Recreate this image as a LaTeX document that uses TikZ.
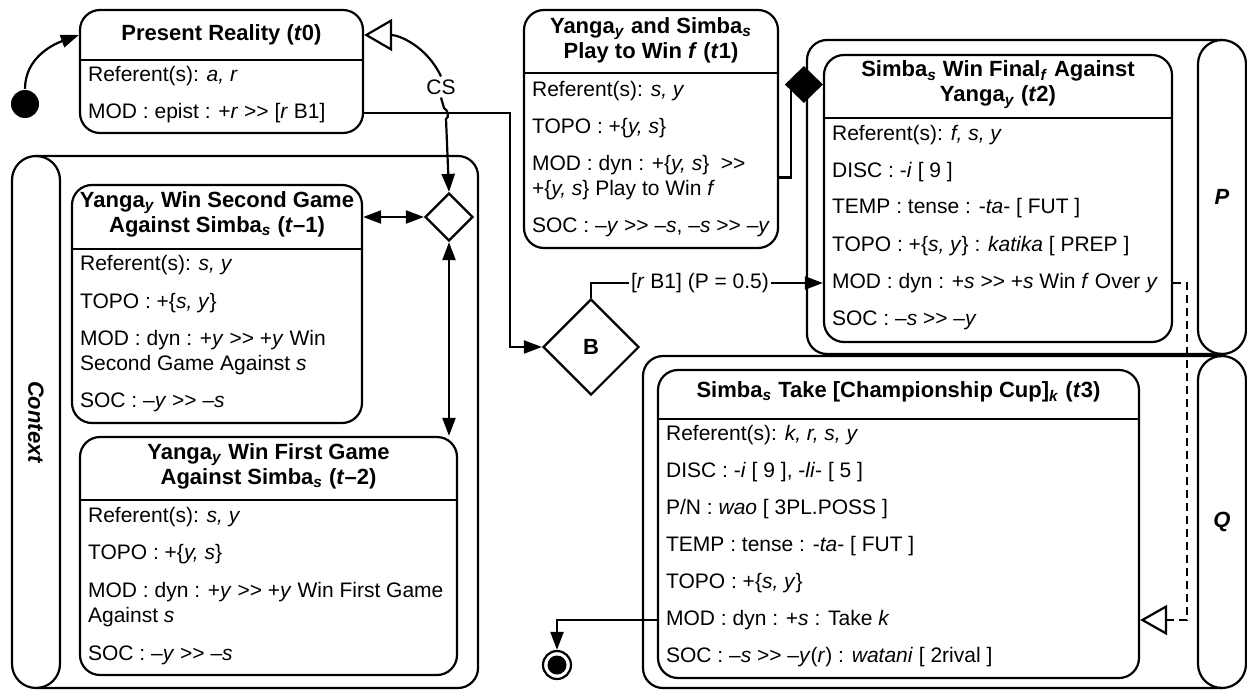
\documentclass[tikz,border=0pt]{standalone}
\usepackage{fontspec}
\setmainfont{Liberation Sans}
\usetikzlibrary{shapes.geometric,arrows.meta}

\tikzset{
  state/.style={draw,rounded corners=10pt,inner sep=0pt},
  lane/.style={draw,rounded corners=12pt,minimum width=24pt,inner sep=0pt},
  head/.style={font=\fontsize{11}{12.5}\selectfont\bfseries,align=center},
  row/.style={anchor=west,align=left,inner sep=0pt},
  arr/.style={-{Triangle[length=9pt,width=6.5pt]}},
  twoarr/.style={{Triangle[length=9pt,width=6.5pt]}-{Triangle[length=9pt,width=6.5pt]}},
}
\newcommand{\gtgt}{>{}>}

\begin{document}
\begin{tikzpicture}[x=0.5pt,y=0.5pt,line width=1.1pt,font=\fontsize{10.5}{12.5}\selectfont]
\useasboundingbox (0,0) rectangle (1247,-690);

% swimlanes
\draw[rounded corners=10pt] (36,-156) -- (478,-156) -- (478,-688) -- (36,-688);
\node[lane,minimum height=266pt] (ctx) at (36,-422) {};
\node[rotate=-90,font=\fontsize{11}{12.5}\selectfont\bfseries\itshape] (ctxl) at (ctx) {Context};
\draw[rounded corners=10pt] (1222,-40) -- (807,-40) -- (807,-354) -- (1222,-354);
\node[lane,minimum height=157pt] (lp) at (1222,-197) {};
\node[font=\fontsize{11}{12.5}\selectfont\bfseries\itshape] (lpl) at (lp) {P};
\draw[rounded corners=10pt] (1222,-356) -- (643,-356) -- (643,-688) -- (1222,-688);
\node[lane,minimum height=166pt] (lq) at (1222,-522) {};
\node[font=\fontsize{11}{12.5}\selectfont\bfseries\itshape] (lql) at (lq) {Q};

% t0
\node[state,minimum width=141.5pt,minimum height=61.5pt] (t0) at (221.5,-71.5) {};
\draw (t0.west |- 0,-60) -- (t0.east |- 0,-60);
\node[head] (t0h) at (221.5,-35) {Present Reality (\textit{t}0)};
\node[row] (t0r1) at (87,-76) {Referent(s): \textit{a, r}};
\node[row] (t0r2) at (87,-113) {MOD : epist : +\textit{r} \gtgt{} [\textit{r} B1]};

% t1
\node[state,minimum width=127pt,minimum height=119pt] (t1) at (651,-129) {};
\draw (t1.west |- 0,-73) -- (t1.east |- 0,-73);
\node[head] (t1h) at (651,-40.5) {Yanga\textsubscript{\textit{y}} and Simba\textsubscript{\textit{s}}\\Play to Win \textit{f} (\textit{t}1)};
\node[row] (t1r1) at (531,-91) {Referent(s): \textit{s, y}};
\node[row] (t1r2) at (531,-128) {TOPO : +\{\textit{y, s}\}};
\node[row] (t1r3) at (531,-177.5) {MOD : dyn : +\{\textit{y, s}\}~ \gtgt\\+\{\textit{y, s}\} Play to Win \textit{f}};
\node[row] (t1r4) at (531,-227) {SOC : --\textit{y} \gtgt{} --\textit{s}, --\textit{s} \gtgt{} --\textit{y}};

% t2
\node[state,minimum width=174pt,minimum height=143.5pt] (t2) at (998,-198.5) {};
\draw (t2.west |- 0,-118) -- (t2.east |- 0,-118);
\node[head] (t2h) at (998,-84.5) {Simba\textsubscript{\textit{s}} Win Final\textsubscript{\textit{f}} Against\\Yanga\textsubscript{\textit{y}} (\textit{t}2)};
\node[row] (t2r1) at (831,-135) {Referent(s): \textit{f, s, y}};
\node[row] (t2r2) at (831,-172) {DISC : -\textit{i} [ 9 ]};
\node[row] (t2r3) at (831,-208) {TEMP : tense : -\textit{ta}- [ FUT ]};
\node[row] (t2r4) at (831,-246) {TOPO : +\{\textit{s, y}\} : \textit{katika} [ PREP ]};
\node[row] (t2r5) at (831,-283) {MOD : dyn : +\textit{s} \gtgt{} +\textit{s} Win \textit{f} Over \textit{y}};
\node[row] (t2r6) at (831,-320) {SOC : --\textit{s} \gtgt{} --\textit{y}};

% t-1
\node[state,minimum width=145pt,minimum height=119pt] (tm1) at (217,-304) {};
\draw (tm1.west |- 0,-249) -- (tm1.east |- 0,-249);
\node[head] (tm1h) at (217,-214.5) {Yanga\textsubscript{\textit{y}} Win Second Game\\Against Simba\textsubscript{\textit{s}} (\textit{t}--1)};
\node[row] (tm1r1) at (79,-265) {Referent(s): \textit{s, y}};
\node[row] (tm1r2) at (79,-303) {TOPO : +\{\textit{s, y}\}};
\node[row] (tm1r3) at (79,-352.5) {MOD : dyn : +\textit{y} \gtgt{} +\textit{y} Win\\Second Game Against \textit{s}};
\node[row] (tm1r4) at (79,-402) {SOC : --\textit{y} \gtgt{} --\textit{s}};

% t-2
\node[state,minimum width=188.5pt,minimum height=119pt] (tm2) at (268.5,-556) {};
\draw (tm2.west |- 0,-500) -- (tm2.east |- 0,-500);
\node[head] (tm2h) at (268.5,-466) {Yanga\textsubscript{\textit{y}} Win First Game\\Against Simba\textsubscript{\textit{s}} (\textit{t}--2)};
\node[row] (tm2r1) at (87,-517) {Referent(s): \textit{s, y}};
\node[row] (tm2r2) at (87,-554) {TOPO : +\{\textit{y, s}\}};
\node[row] (tm2r3) at (87,-604.5) {MOD : dyn : +\textit{y} \gtgt{} +\textit{y} Win First Game\\Against \textit{s}};
\node[row] (tm2r4) at (87,-655) {SOC : --\textit{y} \gtgt{} --\textit{s}};

% t3
\node[state,minimum width=240.5pt,minimum height=154pt] (t3) at (898.5,-524) {};
\draw (t3.west |- 0,-419) -- (t3.east |- 0,-419);
\node[head] (t3h) at (898.5,-392) {Simba\textsubscript{\textit{s}} Take [Championship Cup]\textsubscript{\textit{k}} (\textit{t}3)};
\node[row] (t3r1) at (665,-435) {Referent(s): \textit{k, r, s, y}};
\node[row] (t3r2) at (665,-472) {DISC : -\textit{i} [ 9 ], -\textit{li}- [ 5 ]};
\node[row] (t3r3) at (665,-509) {P/N : \textit{wao} [ 3PL.POSS ]};
\node[row] (t3r4) at (665,-546) {TEMP : tense : -\textit{ta}- [ FUT ]};
\node[row] (t3r5) at (665,-583) {TOPO : +\{\textit{s, y}\}};
\node[row] (t3r6) at (665,-620) {MOD : dyn : +\textit{s} : Take \textit{k}};
\node[row] (t3r7) at (665,-657) {SOC : --\textit{s} \gtgt{} --\textit{y}(\textit{r}) : \textit{watani} [ 2rival ]};

% pseudo states
\node[circle,fill,minimum size=14pt,inner sep=0pt] (init) at (25,-104) {};
\node[circle,draw,minimum size=14pt,inner sep=0pt] (fin) at (557,-665) {};
\node[circle,fill,minimum size=9.5pt,inner sep=0pt] (finc) at (fin) {};
\node[draw,diamond,minimum width=24pt,minimum height=24pt,inner sep=0pt] (dec1) at (449,-217) {};
\node[draw,diamond,minimum width=48pt,minimum height=48pt,inner sep=0pt,font=\fontsize{11}{12.5}\selectfont\bfseries] (B) at (591,-347) {B};
\node[inner sep=1pt] (cs) at (441,-87) {CS};
\coordinate (b1) at (510,-347);

% transitions
\draw[arr] (init.north) to[out=90,in=200] (t0.west |- t0h);
\draw[arr] (t0.east |- t0r2) -| (b1) -- (B.west);
\draw[arr] (B.north) |- node[pos=0.735,fill=white,inner sep=1pt] (bl) {[\textit{r} B1] (P = 0.5)} (t2.west |- t2r5);
\draw[-{Diamond[length=19pt,width=18.5pt]}] (t1.east |- t1r3) -- ++(12,0) |- (t2.west |- t2h);
\draw[-{Triangle[open,length=14pt,width=16pt]}] (cs.north) to[out=115,in=0] (t0.east |- t0h);
\draw[arr] (cs.south) -- (444,-108) to[out=-30,in=30] (446,-119) -- (dec1.north);
\draw[twoarr] (tm1.east |- dec1) -- (dec1.west);
\draw[twoarr] (dec1.south) -- (dec1.south |- tm2.north);
\draw[dash pattern=on 4pt off 2.5pt,-{Triangle[open,length=13.5pt,width=15pt]}] (t2.east |- t2r5) -- ++(14,0) |- (t3.east |- t3r6);
\draw[arr] (t3.west |- t3r6) -| (fin.north);
\end{tikzpicture}
\end{document}
